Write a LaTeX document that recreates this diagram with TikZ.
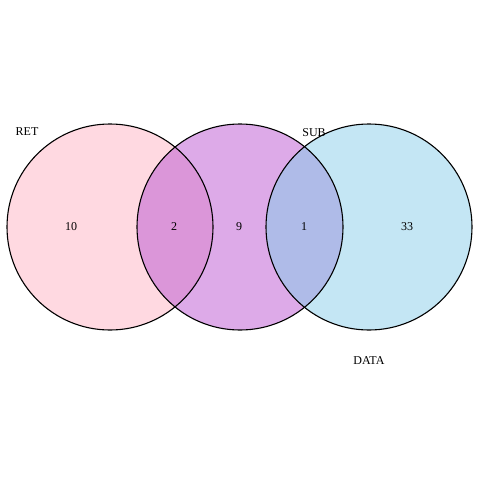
\documentclass[tikz,border=0pt]{standalone}
\usepackage{fontspec}
\setmainfont{Liberation Serif}
\definecolor{retpink}{HTML}{FFD9E1}
\definecolor{subpurple}{HTML}{DDAAE8}
\definecolor{datablue}{HTML}{C4E6F4}
\definecolor{retsub}{HTML}{DB96D9}
\definecolor{subdata}{HTML}{AFBBE8}
\tikzset{
  setring/.style={draw=black, line width=1.1pt},
  cnt/.style={inner sep=0pt, font=\fontsize{12}{13}\selectfont},
  setname/.style={inner sep=0pt, font=\fontsize{12}{13}\selectfont}
}
\begin{document}
\begin{tikzpicture}[x=1pt,y=-1pt]
\useasboundingbox (0,0) rectangle (480,480);
\coordinate (cret) at (110,227);
\coordinate (csub) at (240,227);
\coordinate (cdata) at (369,227);
\fill[retpink] (cret) circle (103);
\fill[subpurple] (csub) circle (103);
\fill[datablue] (cdata) circle (103);
\begin{scope}
\clip (cret) circle (103);
\fill[retsub] (csub) circle (103);
\end{scope}
\begin{scope}
\clip (csub) circle (103);
\fill[subdata] (cdata) circle (103);
\end{scope}
\draw[setring] (cret) circle (103);
\draw[setring] (csub) circle (103);
\draw[setring] (cdata) circle (103);
\node[setname] (ret) at (27,132) {RET};
\node[setname] (sub) at (314,133) {SUB};
\node[setname] (data) at (369,361) {DATA};
\node[cnt] (n10) at (71,227) {10};
\node[cnt] (n2) at (174,227) {2};
\node[cnt] (n9) at (239,227) {9};
\node[cnt] (n1) at (304,227) {1};
\node[cnt] (n33) at (407,227) {33};
\end{tikzpicture}
\end{document}
